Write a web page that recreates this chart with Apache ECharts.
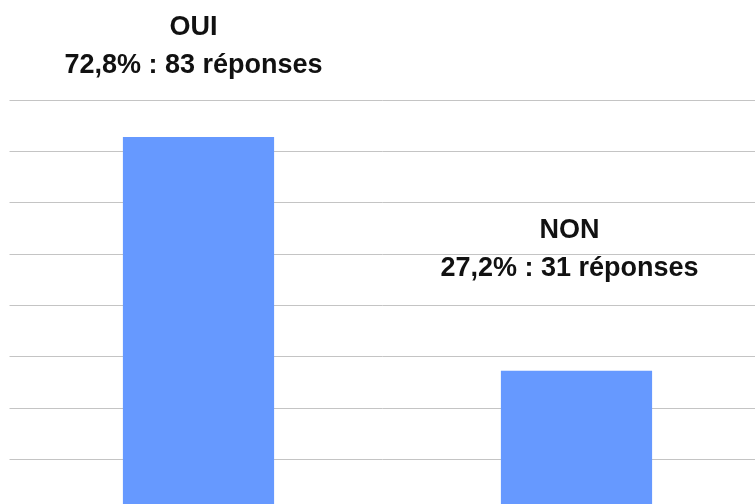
<!DOCTYPE html>
<html>
<head>
<meta charset="utf-8">
<script src="https://cdn.jsdelivr.net/npm/echarts@6/dist/echarts.min.js"></script>
<style>
  html, body { margin: 0; padding: 0; background: #fff; }
  #chart { width: 755px; height: 504px; }
</style>
</head>
<body>
<div id="chart"></div>
<script>
// réponses au sondage
const categories = ['OUI', 'NON']
const percents = [72.8, 27.2]
const responses = [83, 31]
const yTicks = [0, 10, 20, 30, 40, 50, 60, 70, 80]

// label placement per bar (distance above bar, horizontal nudge)
const labelDistance = [52, 83]
const labelOffsetX = [-5, -7]

let myChart = echarts.init(document.getElementById('chart'))

myChart.setOption({
  animation: false,
  backgroundColor: '#fff',
  grid: {
    left: 9.5,
    top: 100,
    width: 756,
    height: 410.4,
    containLabel: false,
    outerBoundsMode: 'none',
  },
  xAxis: {
    type: 'category',
    data: categories,
    axisLine: { show: false },
    axisTick: { show: false },
    axisLabel: { show: false },
  },
  yAxis: {
    type: 'value',
    min: yTicks[0],
    max: yTicks[yTicks.length - 1],
    interval: yTicks[1] - yTicks[0],
    axisLabel: { show: false },
    axisLine: { show: false },
    axisTick: { show: false },
    splitLine: {
      lineStyle: { color: '#c4c4c4', width: 1 },
    },
  },
  series: [
    {
      type: 'bar',
      barWidth: '40%',
      itemStyle: { color: '#6699ff' },
      data: percents.map((v, i) => ({
        value: v,
        label: {
          distance: labelDistance[i],
          offset: [labelOffsetX[i], 0],
        },
      })),
      label: {
        show: true,
        position: 'top',
        fontFamily: 'Liberation Sans, Arial, sans-serif',
        fontWeight: 'bold',
        fontSize: 27,
        color: '#111',
        lineHeight: 38,
        align: 'center',
        formatter: (p) => {
          let i = p.dataIndex
          let pct = percents[i].toFixed(1).replace('.', ',')
          return categories[i] + '\n' + pct + '% : ' + responses[i] + ' réponses'
        },
      },
    },
  ],
})
</script>
</body>
</html>
